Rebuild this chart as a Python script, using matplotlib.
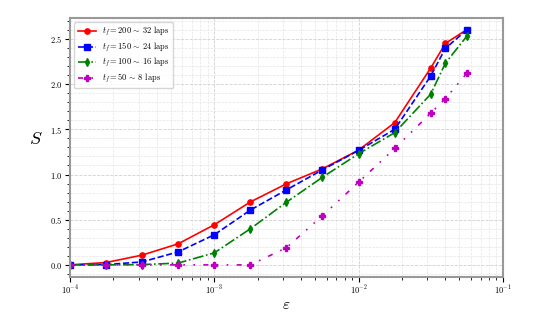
import matplotlib
matplotlib.use("Agg")
import matplotlib.pyplot as plt
import numpy as np

plt.rcParams['font.family'] = 'serif'
plt.rcParams['font.serif'] = ['cmr10', 'DejaVu Serif']
plt.rcParams['mathtext.fontset'] = 'cm'
plt.rcParams['axes.formatter.use_mathtext'] = True

eps = [1e-4, 1.78e-4, 3.16e-4, 5.62e-4, 1e-3, 1.78e-3, 3.16e-3, 5.62e-3,
       1e-2, 1.78e-2, 3.16e-2, 4.0e-2, 5.62e-2]
s_200 = [0, 0.026, 0.108, 0.233, 0.444, 0.697, 0.897, 1.063, 1.27, 1.574, 2.178, 2.452, 2.603]
s_150 = [0, 0.003, 0.033, 0.144, 0.333, 0.607, 0.83, 1.052, 1.267, 1.50, 2.09, 2.397, 2.60]
s_100 = [0, 0.0, 0.003, 0.02, 0.133, 0.40, 0.693, 0.97, 1.23, 1.463, 1.889, 2.233, 2.53]
s_50 = [0, 0, 0, 0, 0, 0, 0.19, 0.544, 0.915, 1.289, 1.678, 1.841, 2.119]
labels = [r'$t_f = 200 \,\sim\, 32$ laps', r'$t_f = 150 \,\sim\, 24$ laps',
          r'$t_f = 100 \,\sim\, 16$ laps', r'$t_f = 50 \,\sim\, 8$ laps']

fig = plt.figure(figsize=(5.6, 3.14), dpi=100)
ax = fig.add_axes([0.125, 0.119, 0.773, 0.824])

ax.plot(eps, s_200, color='red', linestyle='-', marker='o', markersize=3.8, lw=1.2, label=labels[0])
ax.plot(eps, s_150, color='blue', linestyle='--', marker='s', markersize=3.8, lw=1.2, label=labels[1])
ax.plot(eps, s_100, color='green', linestyle='-.', marker='d', markersize=3.8, lw=1.2, label=labels[2])
ax.plot(eps, s_50, color='m', linestyle=(0, (3, 5, 1, 5, 1, 5)), marker='P', markersize=3.8, lw=1.2, label=labels[3])

ax.set_xscale('log')
ax.set_xlim(1e-4, 1e-1)
ax.minorticks_on()
ax.grid(True, which='major', color='#d0d0d0', linestyle='--', linewidth=0.6)
ax.grid(True, which='minor', color='#e4e4e4', linestyle='--', linewidth=0.5)
ax.tick_params(labelsize=6, pad=2)
for sp in ax.spines.values():
    sp.set_color('#999999')
    sp.set_linewidth(1.5)

ax.set_xlabel(r'$\varepsilon$', fontsize=11, labelpad=1)
ax.set_ylabel(r'$S$', fontsize=13, rotation=0, labelpad=10)
ax.legend(loc='upper left', fontsize=6, framealpha=0.8, handlelength=2.2,
          labelspacing=0.3, borderpad=0.4)

fig.savefig('out.png', dpi=100)
